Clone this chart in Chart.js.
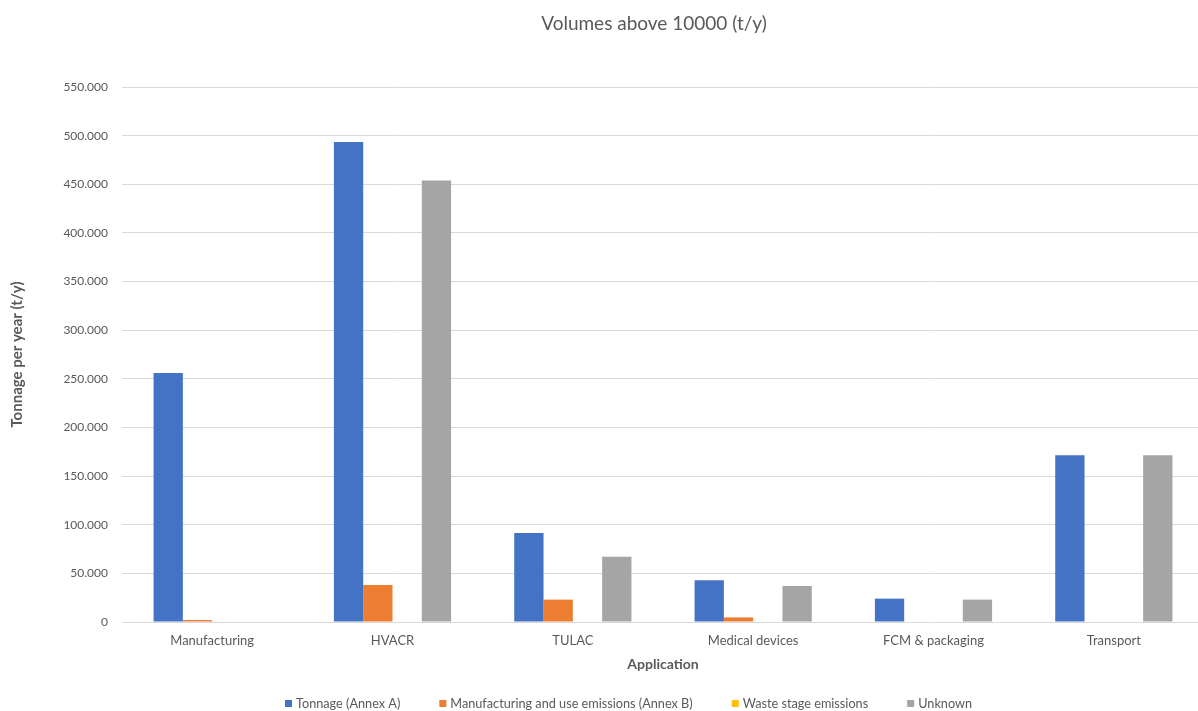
<!DOCTYPE html>
<html>
<head>
<meta charset="utf-8">
<title>Volumes above 10000 (t/y)</title>
<script src="https://cdn.jsdelivr.net/npm/chart.js@4.4.1/dist/chart.umd.min.js"></script>
<style>
  html, body { margin: 0; padding: 0; background: #ffffff; overflow: hidden; }
  #wrap { width: 1206px; height: 711px; }
</style>
</head>
<body>
<div id="wrap"><canvas id="chart" width="1206" height="711"></canvas></div>
<script>
// Application categories on the x axis
const categories = ['Manufacturing', 'HVACR', 'TULAC', 'Medical devices', 'FCM & packaging', 'Transport'];

// Tonnage per year (t/y) for each series
const tonnageAnnexA       = [256000, 493500, 91500, 43000, 24000, 171500];
const manufacturingUseB   = [2000, 38000, 23000, 4700, 0, 0];
const wasteStageEmissions = [0, 0, 0, 0, 0, 0];
const unknownUse          = [0, 454000, 67000, 37000, 23000, 171500];

const seriesNames = ['Tonnage (Annex A)', 'Manufacturing and use emissions (Annex B)', 'Waste stage emissions', 'Unknown'];

// Y axis tick values
const yTickValues = [0, 50000, 100000, 150000, 200000, 250000, 300000, 350000, 400000, 450000, 500000, 550000];

const chartTitle = 'Volumes above 10000 (t/y)';
const xAxisTitle = 'Application';
const yAxisTitle = 'Tonnage per year (t/y)';

const seriesColors = ['#4472C4', '#ED7D31', '#FFC000', '#A5A5A5'];
const textColor = '#595959';
const fontFamily = 'Lato, "Open Sans", "Liberation Sans", sans-serif';

const fmt = v => v === 0 ? '0' : v.toLocaleString('de-DE');

// Title and legend drawn at their own spots around the plot
const headingPlugin = {
  id: 'heading',
  afterDraw(chart, args, opts) {
    const ctx = chart.ctx;
    ctx.save();
    ctx.fillStyle = textColor;
    ctx.font = '19px ' + fontFamily;
    ctx.textAlign = 'center';
    ctx.textBaseline = 'middle';
    ctx.fillText(chartTitle, opts.titleX, opts.titleY);

    ctx.font = '12.7px ' + fontFamily;
    ctx.textAlign = 'left';
    let x = opts.legendX;
    const y = opts.legendY;
    chart.data.datasets.forEach(ds => {
      ctx.fillStyle = ds.backgroundColor;
      ctx.fillRect(x, y - 4, 7, 7);
      ctx.fillStyle = textColor;
      ctx.fillText(ds.label, x + 11, y);
      x += 11 + ctx.measureText(ds.label).width + opts.legendGap;
    });
    ctx.restore();
  }
};

const seriesValues = [tonnageAnnexA, manufacturingUseB, wasteStageEmissions, unknownUse];

new Chart(document.getElementById('chart'), {
  type: 'bar',
  data: {
    labels: categories,
    datasets: seriesNames.map((name, i) => ({
      label: name,
      data: seriesValues[i],
      backgroundColor: seriesColors[i],
      borderWidth: 0,
      categoryPercentage: 0.65,
      barPercentage: 1.0
    }))
  },
  options: {
    responsive: false,
    animation: false,
    devicePixelRatio: 1,
    layout: { padding: { top: 87, right: 2, bottom: 0, left: 0 } },
    plugins: {
      title: { display: false },
      legend: { display: false },
      tooltip: { enabled: false },
      heading: { titleX: 654, titleY: 24, legendX: 285, legendY: 704, legendGap: 39 }
    },
    scales: {
      x: {
        grid: { display: false, drawTicks: false },
        border: { display: false },
        ticks: { color: textColor, font: { family: fontFamily, size: 13 }, padding: 11, maxRotation: 0 },
        title: { display: true, text: xAxisTitle, color: textColor, font: { family: fontFamily, size: 14, weight: 'bold' }, padding: { top: 0, bottom: 38 } },
        afterFit(scale) { scale.height = 89; }
      },
      y: {
        min: 0,
        max: 550000,
        afterBuildTicks(scale) { scale.ticks = yTickValues.map(v => ({ value: v })); },
        grid: { color: '#D9D9D9', lineWidth: 1, drawTicks: false },
        border: { display: false },
        ticks: { color: textColor, font: { family: fontFamily, size: 12 }, padding: 14, callback: v => fmt(v) },
        title: { display: true, text: yAxisTitle, color: textColor, font: { family: fontFamily, size: 15, weight: 'bold' }, padding: { top: 8, bottom: 0 } },
        afterFit(scale) { scale.width = 122; }
      }
    }
  },
  plugins: [headingPlugin]
});
</script>
</body>
</html>
